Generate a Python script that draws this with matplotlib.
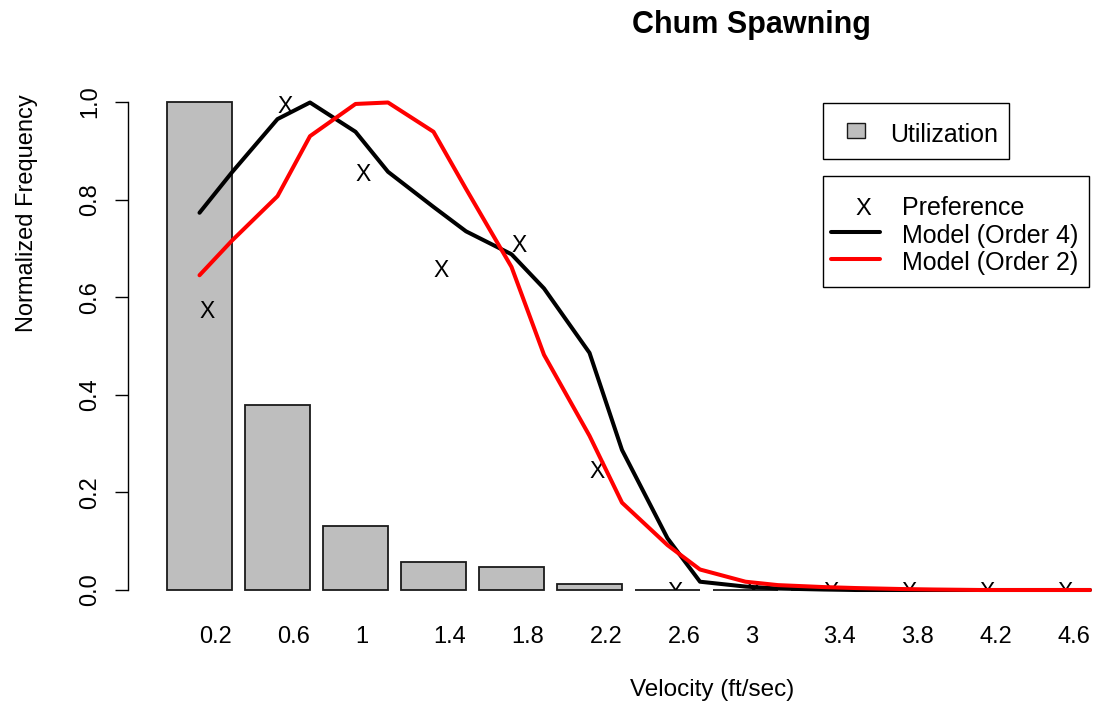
import matplotlib
matplotlib.use("Agg")
import matplotlib.pyplot as plt
from matplotlib.patches import Rectangle
from matplotlib.lines import Line2D
import matplotlib.transforms as mtransforms

plt.rcParams['font.family'] = ['Liberation Sans', 'DejaVu Sans']

# ---------------- data ----------------
tick_labels = ["0.2", "0.6", "1", "1.4", "1.8", "2.2", "2.6", "3", "3.4", "3.8", "4.2", "4.6"]
utilization = [1.0, 0.379, 0.131, 0.058, 0.047, 0.012, 0.0, 0.0, 0.0, 0.0, 0.0, 0.0]
preference = [0.575, 0.996, 0.856, 0.660, 0.712, 0.247, 0.0, 0.0, 0.0, 0.0, 0.0, 0.0]
# model curves sampled at every 0.2 ft/sec (bar centre, then bar right edge)
model_velocity = [0.2, 0.4, 0.6, 0.8, 1.0, 1.2, 1.4, 1.6, 1.8, 2.0, 2.2, 2.4,
                  2.6, 2.8, 3.0, 3.2, 3.4, 3.6, 3.8, 4.0, 4.2, 4.4, 4.6, 4.8]
model_order4 = [0.773, 0.856, 0.965, 0.999, 0.939, 0.857, 0.785, 0.735, 0.688, 0.618,
                0.486, 0.287, 0.106, 0.017, 0.007, 0.003, 0.001, 0.0, 0.0, 0.0,
                0.0, 0.0, 0.0, 0.0]
model_order2 = [0.645, 0.716, 0.807, 0.930, 0.996, 0.999, 0.939, 0.822, 0.662, 0.482,
                0.316, 0.179, 0.092, 0.042, 0.017, 0.010, 0.006, 0.004, 0.002, 0.001,
                0.0, 0.0, 0.0, 0.0]

W, H = 1113, 705
fig = plt.figure(figsize=(W / 100, H / 100), dpi=100)

# barplot-like coordinates: bar width 1, space 0.2
BW, SP = 1.0, 0.2
n = len(utilization)
centers = [SP + BW / 2 + i * (BW + SP) for i in range(n)]
right_edges = [(i + 1) * (BW + SP) for i in range(n)]

def vel_to_pos(v):
    k = int(round(v / 0.2))  # 1,2,3...
    i = (k - 1) // 2
    return centers[i] if k % 2 == 1 else right_edges[i]

model_pos = [vel_to_pos(v) for v in model_velocity]

x0_px, y0_px, px_per_x, px_per_y = 154, 590, 65.0, 488.0
xmax, ymax = 14.6, 1.06
ax = fig.add_axes([x0_px / W, (H - y0_px) / H, xmax * px_per_x / W, ymax * px_per_y / H])
ax.set_xlim(0, xmax)
ax.set_ylim(0, ymax)

ax.bar(centers, utilization, width=BW, color='#BEBEBE', edgecolor='#1a1a1a',
       linewidth=1.3, clip_on=False, zorder=2)

off = mtransforms.ScaledTranslation(8 / 100, 0, fig.dpi_scale_trans)
for xc, p in zip(centers, preference):
    ax.text(xc, p, "X", ha='center', va='center_baseline', fontsize=16.5,
            color='black', clip_on=True, transform=ax.transData + off, zorder=3)

ax.plot(model_pos, model_order4, color='black', lw=2.9, solid_joinstyle='round',
        solid_capstyle='round', clip_on=False, zorder=4)
ax.plot(model_pos, model_order2, color='#FF0000', lw=2.9, solid_joinstyle='round',
        solid_capstyle='round', clip_on=False, zorder=5)

for s in ['top', 'right', 'bottom']:
    ax.spines[s].set_visible(False)
ax.spines['left'].set_bounds(0, 1)
ax.spines['left'].set_position(('outward', 26 * 0.72))
ax.spines['left'].set_linewidth(1.0)
ax.set_yticks([0, 0.2, 0.4, 0.6, 0.8, 1.0])
ax.set_yticklabels(["0.0", "0.2", "0.4", "0.6", "0.8", "1.0"], rotation=90, va='center')
ax.tick_params(axis='y', length=9.5, width=1.0, pad=10, labelsize=17)
ax.set_xticks(centers)
ax.set_xticklabels(tick_labels, ha='left')
ax.tick_params(axis='x', length=0, pad=26, labelsize=17)

def fx(x):
    return x / W

def fy(y):
    return 1 - y / H

fig.text(fx(751), fy(25), "Chum Spawning", ha='center', va='center',
         fontsize=22, fontweight='bold')
fig.text(fx(712), fy(690), "Velocity (ft/sec)", ha='center', va='center', fontsize=17.5)
fig.text(fx(27), fy(213), "Normalized Frequency", ha='center', va='center',
         rotation=90, fontsize=17)

def box(x1, y1, x2, y2, **kw):
    r = Rectangle((fx(x1), fy(y2)), fx(x2) - fx(x1), fy(y1) - fy(y2),
                  transform=fig.transFigure, **kw)
    fig.patches.append(r)

# legend 1
box(823, 103, 1009, 159, facecolor='white', edgecolor='black', lw=1.0)
box(847, 123, 865, 138, facecolor='#BEBEBE', edgecolor='#1a1a1a', lw=1.0)
fig.text(fx(890), fy(142), "Utilization", ha='left', va='baseline', fontsize=18)

# legend 2
box(823, 176, 1089, 287, facecolor='white', edgecolor='black', lw=1.0)
fig.text(fx(863), fy(215), "X", ha='center', va='baseline', fontsize=17)
fig.lines.append(Line2D([fx(831), fx(880)], [fy(232), fy(232)], color='black', lw=2.9,
                        solid_capstyle='round', transform=fig.transFigure))
fig.lines.append(Line2D([fx(831), fx(880)], [fy(259), fy(259)], color='#FF0000', lw=2.9,
                        solid_capstyle='round', transform=fig.transFigure))
fig.text(fx(902), fy(215), "Preference", ha='left', va='baseline', fontsize=18)
fig.text(fx(902), fy(243), "Model (Order 4)", ha='left', va='baseline', fontsize=18)
fig.text(fx(902), fy(270), "Model (Order 2)", ha='left', va='baseline', fontsize=18)

fig.savefig("out.png", dpi=100)
